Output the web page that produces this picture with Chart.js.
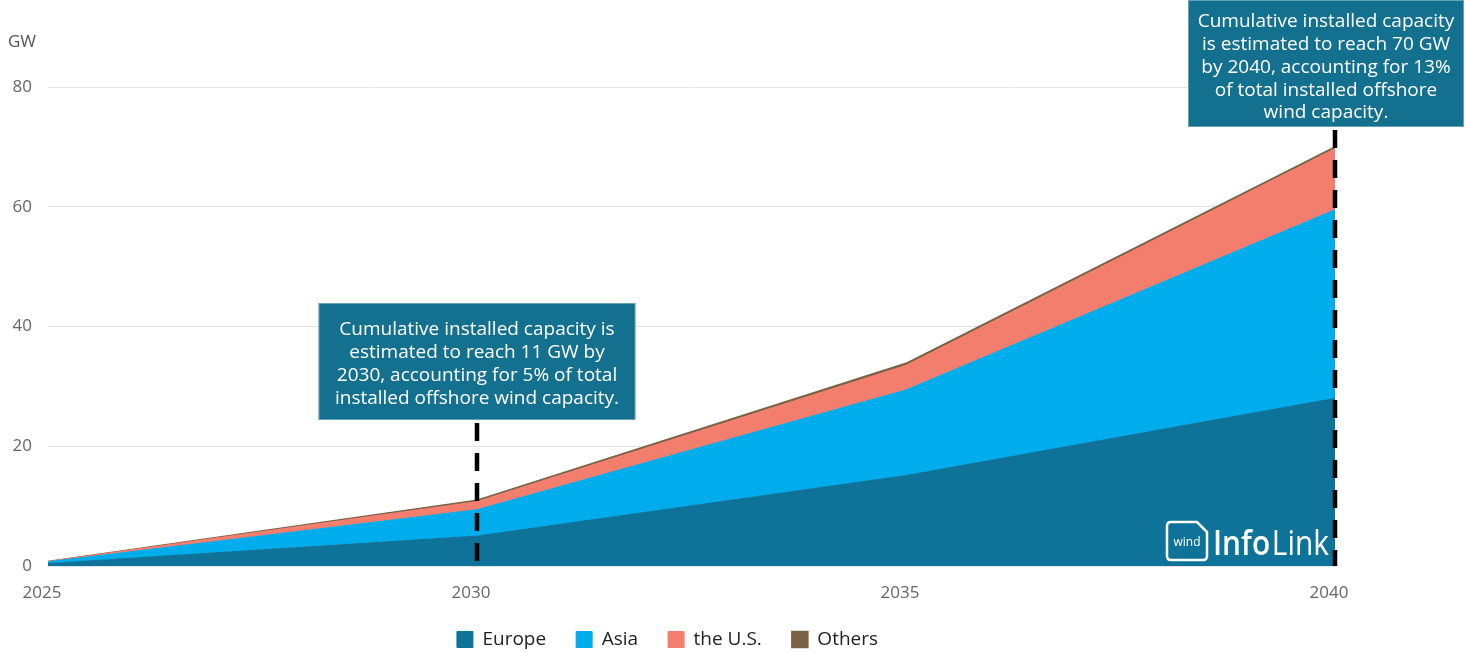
<!DOCTYPE html>
<html>
<head>
<meta charset="utf-8">
<script src="https://cdn.jsdelivr.net/npm/chart.js@4"></script>
<style>
  html, body { margin: 0; padding: 0; background: #fff; }
</style>
</head>
<body>
<canvas id="windChart" width="1466" height="653"></canvas>
<script>
// cumulative installed capacity, GW
const years = ['2025', '2030', '2035', '2040'];
const europe = [0.4, 5.0, 15.1, 28.0];
const asia = [0.3, 4.4, 14.3, 31.5];
const us = [0.05, 1.35, 4.1, 10.2];
const others = [0.02, 0.25, 0.35, 0.3];
const yTicks = [0, 20, 40, 60, 80];

const noteYears = ['2030', '2040'];
const noteText = [
  ['Cumulative installed capacity is', 'estimated to reach 11 GW by', '2030, accounting for 5% of total', 'installed offshore wind capacity.'],
  ['Cumulative installed capacity', 'is estimated to reach 70 GW', 'by 2040, accounting for 13%', 'of total installed offshore', 'wind capacity.']
];

// callout box placement (offset from the year's x pixel)
const noteBoxes = [
  { dx: 0, w: 317, top: 303, h: 117, firstLine: 27 },
  { dx: -9, w: 276, top: 0, h: 127, firstLine: 22 }
];

const FONT = "'Open Sans', sans-serif";
Chart.defaults.font.family = FONT;

const extras = {
  id: 'extras',
  beforeLayout(chart) {
    // fixed legend band height so the plot keeps its baseline
    const lg = chart.legend;
    if (lg && !lg._fixed) {
      const fit = lg.fit;
      lg.fit = function () { fit.call(this); this.height = 53; };
      lg._fixed = true;
    }
  },
  afterDatasetsDraw(chart) {
    const { ctx, chartArea, scales } = chart;
    const x = scales.x;
    ctx.save();

    // unit label
    ctx.fillStyle = '#555';
    ctx.font = `17px ${FONT}`;
    ctx.textAlign = 'left';
    ctx.textBaseline = 'middle';
    ctx.fillText('GW', 8, 42);

    // watermark
    const lx = chartArea.right - 168, ly = chartArea.bottom - 44;
    ctx.strokeStyle = '#fff';
    ctx.fillStyle = '#fff';
    ctx.lineWidth = 2.5;
    ctx.beginPath();
    ctx.moveTo(lx + 4, ly);
    ctx.lineTo(lx + 30, ly);
    ctx.lineTo(lx + 40, ly + 10);
    ctx.lineTo(lx + 40, ly + 34);
    ctx.quadraticCurveTo(lx + 40, ly + 38, lx + 36, ly + 38);
    ctx.lineTo(lx + 4, ly + 38);
    ctx.quadraticCurveTo(lx, ly + 38, lx, ly + 34);
    ctx.lineTo(lx, ly + 4);
    ctx.quadraticCurveTo(lx, ly, lx + 4, ly);
    ctx.stroke();
    ctx.font = `12px ${FONT}`;
    ctx.textAlign = 'center';
    ctx.fillText('wind', lx + 20, ly + 21);

    // squeeze the wordmark into its slot
    ctx.textAlign = 'left';
    ctx.textBaseline = 'alphabetic';
    const boldF = `600 35px ${FONT}`, thinF = `35px ${FONT}`;
    ctx.font = boldF;
    const w1 = ctx.measureText('Info').width;
    ctx.font = thinF;
    const w2 = ctx.measureText('Link').width;
    const sx = 116 / (w1 + w2 + 2);
    ctx.save();
    ctx.translate(lx + 46, ly + 33);
    ctx.scale(sx, 1);
    ctx.font = boldF;
    ctx.fillText('Info', 0, 0);
    ctx.font = thinF;
    ctx.fillText('Link', w1 + 2, 0);
    ctx.restore();

    // callouts with dashed leaders
    noteYears.forEach((yr, i) => {
      const px = x.getPixelForValue(years.indexOf(yr));
      const b = noteBoxes[i];
      const bx = px + b.dx - b.w / 2;

      ctx.setLineDash([18, 12]);
      ctx.strokeStyle = '#000';
      ctx.lineWidth = 4.5;
      ctx.beginPath();
      ctx.moveTo(px, b.top + b.h + 3);
      ctx.lineTo(px, chartArea.bottom);
      ctx.stroke();
      ctx.setLineDash([]);

      ctx.fillStyle = '#13708f';
      ctx.fillRect(bx, b.top, b.w, b.h);
      ctx.strokeStyle = 'rgba(255,255,255,0.35)';
      ctx.lineWidth = 1;
      ctx.strokeRect(bx + 0.5, b.top + 0.5, b.w - 1, b.h - 1);

      ctx.fillStyle = '#fff';
      ctx.font = `19px ${FONT}`;
      ctx.textAlign = 'center';
      ctx.textBaseline = 'middle';
      noteText[i].forEach((line, j) => {
        ctx.fillText(line, px + b.dx, b.top + b.firstLine + j * 22.7);
      });
    });
    ctx.restore();
  }
};

new Chart(document.getElementById('windChart'), {
  type: 'line',
  data: {
    labels: years,
    datasets: [
      { label: 'Europe', data: europe, backgroundColor: '#0e7299', borderColor: '#0e7299', borderWidth: 1, fill: 'origin' },
      { label: 'Asia', data: asia, backgroundColor: '#00adec', borderColor: '#00adec', borderWidth: 1, fill: '-1' },
      { label: 'the U.S.', data: us, backgroundColor: '#f47e6e', borderColor: '#f47e6e', borderWidth: 1, fill: '-1' },
      { label: 'Others', data: others, backgroundColor: '#7a6344', borderColor: '#7a6344', borderWidth: 1.5, fill: '-1' }
    ]
  },
  options: {
    responsive: false,
    animation: false,
    elements: { point: { radius: 0 }, line: { tension: 0 } },
    layout: { padding: { top: 87, right: 131, left: 0, bottom: 0 } },
    scales: {
      x: {
        afterFit(scale) { scale.height = 34; },
        grid: { display: false },
        border: { display: false },
        ticks: { color: '#666', font: { size: 17 }, padding: 9, labelOffset: -6, maxRotation: 0 }
      },
      y: {
        stacked: true,
        min: 0,
        max: 80,
        afterFit(scale) { scale.width = 48; },
        afterBuildTicks(scale) { scale.ticks = yTicks.map(v => ({ value: v })); },
        grid: { color: '#e3e3e3', drawTicks: false },
        border: { display: false },
        ticks: { color: '#666', font: { size: 17 }, padding: 16 }
      }
    },
    plugins: {
      legend: {
        position: 'bottom',
        labels: { boxWidth: 16, boxHeight: 16, padding: 30, color: '#222', font: { size: 19 } }
      },
      tooltip: { enabled: false }
    }
  },
  plugins: [extras]
});
</script>
</body>
</html>
